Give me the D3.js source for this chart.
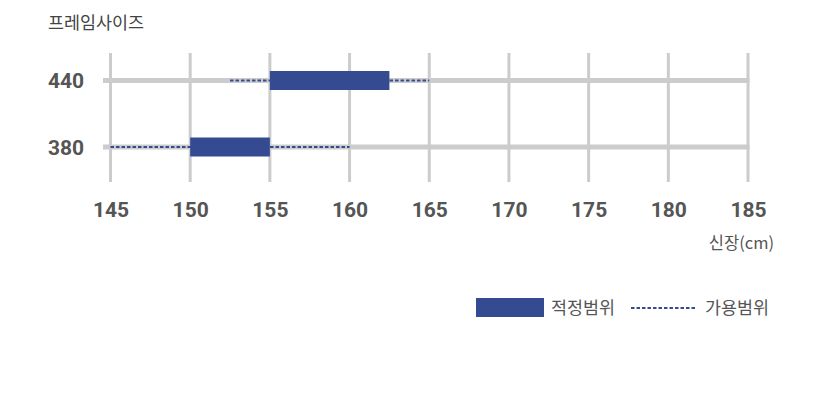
<!DOCTYPE html>
<html>
<head>
<meta charset="utf-8">
<script src="https://cdn.jsdelivr.net/npm/d3@7"></script>
<style>
  html, body { margin: 0; padding: 0; background: #fff; }
  svg { display: block; }
</style>
</head>
<body>
<svg id="chart" width="825" height="415"></svg>
<script>
// ---- data ----
const frameSizes = ["440", "380"];
const fitMin = [155, 150];
const fitMax = [162.5, 155];
const usableMin = [152.5, 145];
const usableMax = [165, 160];
const xTicks = [145, 150, 155, 160, 165, 170, 175, 180, 185];
const titleText = "프레임사이즈";
const xAxisTitle = "신장(cm)";
const legendLabels = ["적정범위", "가용범위"];

// ---- styles ----
const navy = "#344a91";
const grid = "#cccccc";
const textCol = "#555555";
const numFont = "Roboto, 'Noto Sans CJK KR', sans-serif";
const krFont = "'Noto Sans CJK KR', 'Noto Sans', sans-serif";

const svg = d3.select("#chart");

const x = d3.scaleLinear().domain([145, 185]).range([110.5, 748]);
const y = d3.scalePoint().domain(frameSizes).range([80.5, 147]);

// title
svg.append("text")
  .attr("x", 48).attr("y", 28.5)
  .attr("font-family", krFont).attr("font-size", 17.4)
  .attr("fill", "#444").text(titleText);

// vertical gridlines
svg.append("g").selectAll("line").data(xTicks).join("line")
  .attr("x1", d => x(d)).attr("x2", d => x(d))
  .attr("y1", 53).attr("y2", 182)
  .attr("stroke", grid).attr("stroke-width", 3);

// horizontal row lines
svg.append("g").selectAll("line").data(frameSizes).join("line")
  .attr("x1", 103).attr("x2", 749.5)
  .attr("y1", d => y(d)).attr("y2", d => y(d))
  .attr("stroke", grid).attr("stroke-width", 5);

// row labels
svg.append("g").selectAll("text").data(frameSizes).join("text")
  .attr("x", 48).attr("y", d => y(d) + 7.5)
  .attr("font-family", numFont).attr("font-weight", "bold")
  .attr("font-size", 21).attr("fill", textCol)
  .text(d => d);

// usable range (dotted)
svg.append("g").selectAll("line").data(frameSizes).join("line")
  .attr("x1", (d, i) => x(usableMin[i])).attr("x2", (d, i) => x(usableMax[i]))
  .attr("y1", d => y(d)).attr("y2", d => y(d))
  .attr("stroke", navy).attr("stroke-width", 2.2)
  .attr("stroke-dasharray", "3.5,2");

// fit range (bars)
svg.append("g").selectAll("rect").data(frameSizes).join("rect")
  .attr("x", (d, i) => x(fitMin[i]))
  .attr("width", (d, i) => x(fitMax[i]) - x(fitMin[i]))
  .attr("y", d => y(d) - 9.5).attr("height", 19)
  .attr("fill", navy);

// x axis
const xAxis = d3.axisBottom(x).tickValues(xTicks).tickSize(0).tickPadding(0).tickFormat(d3.format("d"));
const gx = svg.append("g").attr("transform", "translate(0,217)").call(xAxis);
gx.select(".domain").remove();
gx.selectAll("text")
  .attr("dy", 0).attr("y", 0)
  .attr("font-family", numFont).attr("font-weight", "bold")
  .attr("font-size", 21).attr("fill", textCol);

// x axis title
svg.append("text")
  .attr("x", 774).attr("y", 248.5).attr("text-anchor", "end")
  .attr("font-family", krFont).attr("font-size", 16.5)
  .attr("fill", textCol).text(xAxisTitle);

// legend
const lg = svg.append("g");
lg.append("rect").attr("x", 476).attr("y", 298).attr("width", 68).attr("height", 19).attr("fill", navy);
lg.append("text").attr("x", 551).attr("y", 314)
  .attr("font-family", krFont).attr("font-size", 17.4).attr("fill", textCol).text(legendLabels[0]);
lg.append("line").attr("x1", 631).attr("x2", 696).attr("y1", 308).attr("y2", 308)
  .attr("stroke", navy).attr("stroke-width", 2.2).attr("stroke-dasharray", "3.5,2");
lg.append("text").attr("x", 705).attr("y", 314)
  .attr("font-family", krFont).attr("font-size", 17.4).attr("fill", textCol).text(legendLabels[1]);
</script>
</body>
</html>
